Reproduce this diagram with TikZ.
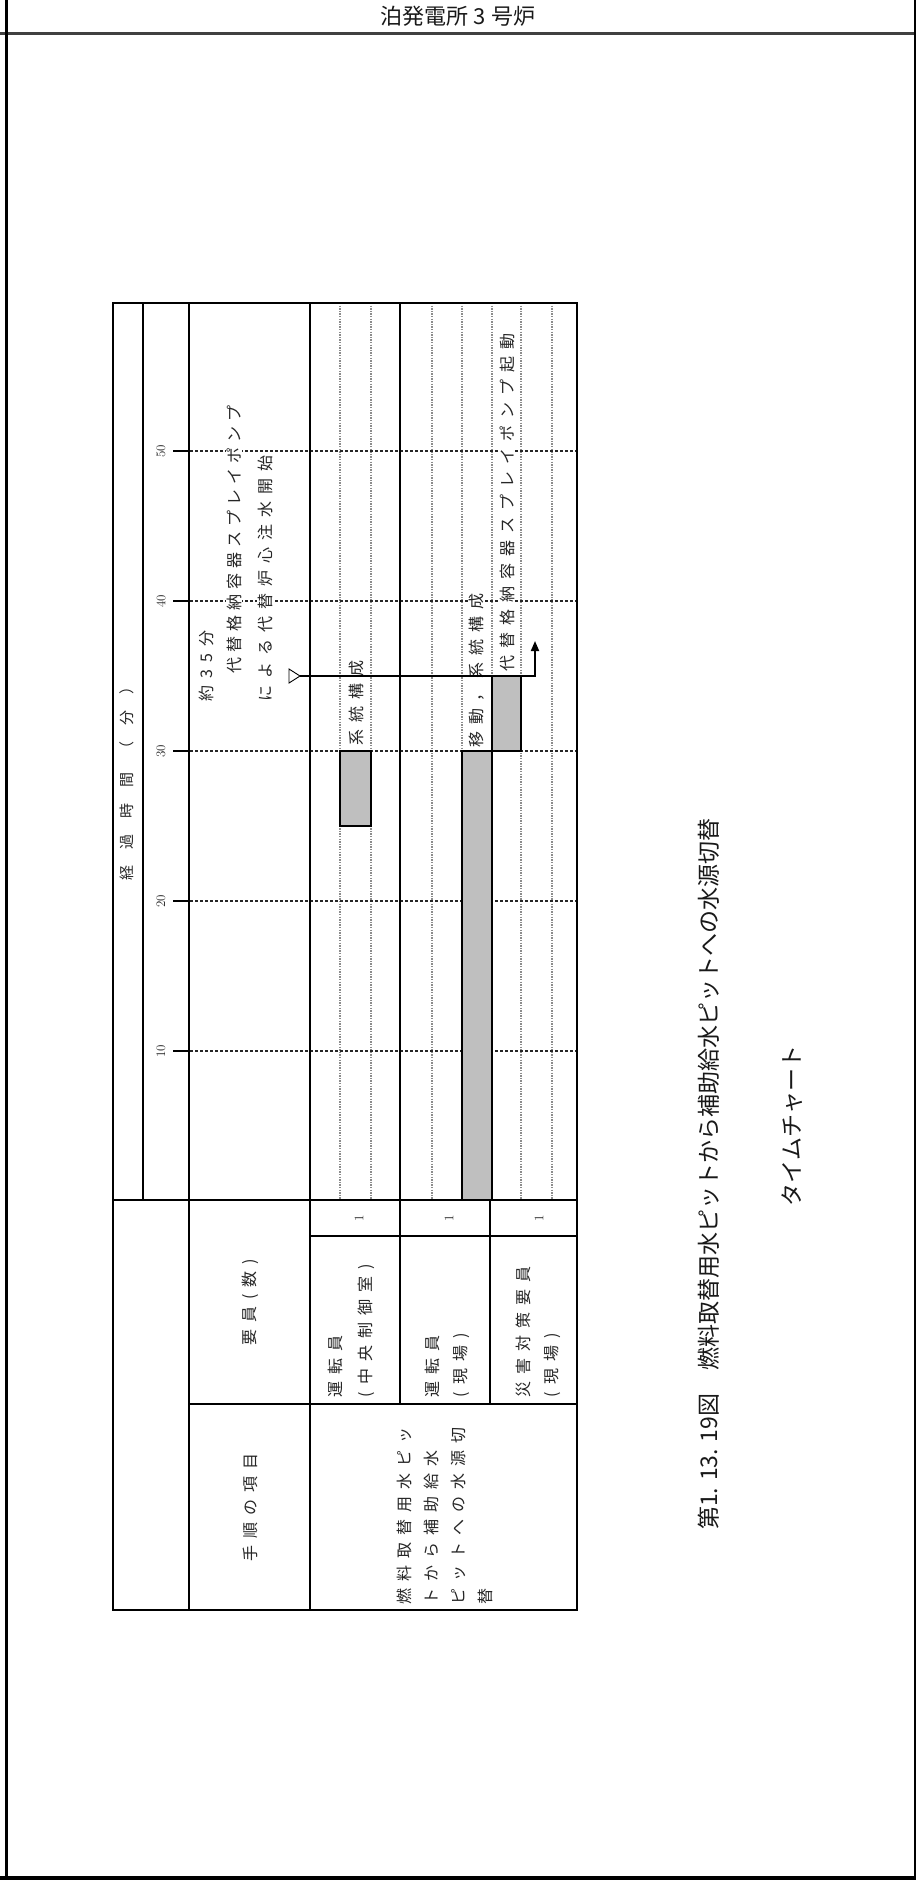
\documentclass[tikz,border=0pt]{standalone}
\usepackage{fontspec}
\newfontfamily\jp{Noto Sans CJK JP}
\usetikzlibrary{arrows.meta}
\def\spg{7pt}
\def\spaced#1{\spxA#1\relax}
\def\spxA#1{#1\spxB}
\def\spxB#1{\ifx#1\relax\else\kern\spg\relax#1\expandafter\spxB\fi}
\begin{document}
\begin{tikzpicture}[x=1pt,y=-1pt,
  thk/.style={line width=2.8pt},
  med/.style={line width=1.8pt},
  thn/.style={line width=1.2pt},
  tgrid/.style={line width=1.5pt, dash pattern=on 3pt off 2pt, black!85},
  subr/.style={line width=1.3pt, black!45, dash pattern=on 1.3pt off 1.3pt},
  bar/.style={fill=black!25, draw=black, line width=2.8pt},
  tx/.style={rotate=90, inner sep=0.8pt, text=black!85, font=\jp\fontsize{16}{16}\selectfont},
  hx/.style={rotate=90, inner sep=0.8pt, text=black!85, font=\jp\fontsize{15}{15}\selectfont},
  num/.style={rotate=90, inner sep=0.5pt, text=black!85, font=\fontsize{13}{13}\selectfont},
  captx/.style={rotate=90, inner sep=0pt, text=black!90, font=\jp\fontsize{23}{23}\selectfont}
]
\useasboundingbox (0,0) rectangle (916,1885);
\fill[white] (0,0) rectangle (916,1885);

% page frame
\draw[line width=3pt, black!75] (0,33) -- (916,33);
\draw[line width=3pt] (6,0) -- (6,1879);
\draw[line width=2pt] (915,0) -- (915,1879);
\draw[line width=4pt] (0,1878) -- (916,1878);
\node[font=\jp\fontsize{22}{22}\selectfont, text=black!90] (title) at (458,16) {泊発電所 3 号炉};

% sub-row dotted lines
\foreach \xx in {340,371,432,462,492,521,552}
  \draw[subr] (\xx,303) -- (\xx,1200);

% time grid lines and ticks
\foreach \t/\yy in {10/1051,20/901,30/751,40/601,50/451}{
  \draw[tgrid] (190,\yy) -- (577,\yy);
  \draw[thn] (173,\yy) -- (190,\yy);
  \node[num] (n\t) at (161,\yy) {\t};
}

% table lines
\draw[thk] (113,303) rectangle (577,1610);
\draw[thk] (113,1200) -- (577,1200);
\draw[med] (143,303) -- (143,1200);
\draw[thk] (189,303) -- (189,1610);
\draw[thk] (310,303) -- (310,1610);
\draw[thk] (400,303) -- (400,1404);
\draw[thk] (189,1404) -- (577,1404);
\draw[thn] (310,1236) -- (577,1236);
\draw[thn] (490,1200) -- (490,1404);

% header texts
\node[hx] (keika) at (127,780) {\def\spg{16pt}\spaced{経過時間（分）}};
\node[tx] (tejun) at (250,1507) {\spaced{手順の項目}};
\node[tx] (yoin) at (250,1302) {\spaced{要員(数)}};

% row labels
\node[tx, anchor=west] (r1a) at (335,1398) {\spaced{運転員}};
\node[tx, anchor=west] (r1b) at (366,1398) {\spaced{(中央制御室)}};
\node[tx, anchor=west] (r2a) at (432,1398) {\spaced{運転員}};
\node[tx, anchor=west] (r2b) at (461,1398) {\spaced{(現場)}};
\node[tx, anchor=west] (r3a) at (523,1398) {\spaced{災害対策要員}};
\node[tx, anchor=west] (r3b) at (552,1398) {\spaced{(現場)}};
\node[num] (c1) at (359,1218) {1};
\node[num] (c2) at (449,1218) {1};
\node[num] (c3) at (539,1218) {1};

% procedure text
\node[tx, anchor=west] (p1) at (404,1605) {\spaced{燃料取替用水ピッ}};
\node[tx, anchor=west] (p2) at (431,1605) {\spaced{トから補助給水}};
\node[tx, anchor=west] (p3) at (458,1605) {\spaced{ピットへの水源切}};
\node[tx, anchor=west] (p4) at (485,1605) {替};

% annotation
\node[tx, anchor=west, fill=white] (a1) at (206,702) {\spaced{約35分}};
\node[tx, anchor=west, fill=white] (a2) at (234,674) {\def\spg{5pt}\spaced{代替格納容器スプレイポンプ}};
\node[tx, anchor=west, fill=white] (a3) at (265,702) {\spaced{による代替炉心注水開始}};

% bars
\draw[bar] (340,751) rectangle (371,826);
\draw[bar] (462,751) rectangle (492,1200);
\draw[bar] (492,676) rectangle (521,751);

% bar labels
\node[tx, anchor=west, fill=white] (l1) at (356,746) {\spaced{系統構成}};
\node[tx, anchor=west, fill=white] (l2) at (477,748) {\spaced{移動，系統構成}};
\node[tx, anchor=west, fill=white] (l3) at (507,672) {\spaced{代替格納容器スプレイポンプ起動}};

% milestone arrow
\coordinate (tri) at (300,676);
\coordinate (aend) at (535,641);
\draw[line width=0.9pt, fill=white] (tri) -- (289,669) -- (289,683) -- cycle;
\draw[line width=1.8pt, -{Triangle[length=10pt,width=8pt]}] (tri) -| (aend);

% caption
\node[captx, anchor=west] (capt) at (709,1530) {第1. 13. 19図　燃料取替用水ピットから補助給水ピットへの水源切替};
\node[captx] (tchart) at (792,1126) {タイムチャート};
\end{tikzpicture}
\end{document}
